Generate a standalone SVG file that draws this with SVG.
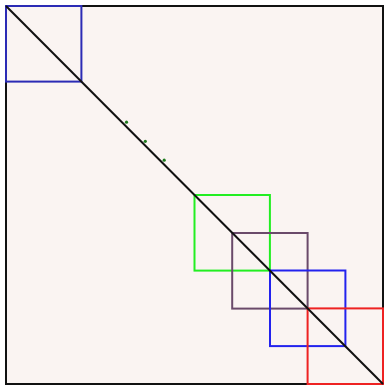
<svg xmlns="http://www.w3.org/2000/svg" width="384" height="385" viewBox="0 0 384 385">
<style>
.frame{fill:#faf4f2;stroke:#111;stroke-width:2}
.sq{fill:none;stroke-width:2}
.dot{fill:#1d7a1d}
</style>
<rect width="384" height="385" fill="#ffffff"/>
<g id="frame"><rect class="frame" x="6" y="6" width="377" height="378"/></g>
<g id="sq1"><rect class="sq" stroke="#2b2bb5" x="6" y="6" width="75.4" height="75.6"/></g>
<g id="sq2"><rect class="sq" stroke="#22ee22" x="194.5" y="195" width="75.4" height="75.6"/></g>
<g id="sq3"><rect class="sq" stroke="#6a4a6a" x="232.2" y="233" width="75.4" height="75.6"/></g>
<g id="sq4"><rect class="sq" stroke="#2222ee" x="270" y="270.5" width="75.4" height="75.6"/></g>
<g id="sq5"><rect class="sq" stroke="#ee2222" x="307.6" y="308.4" width="75.4" height="75.6"/></g>
<g id="connectors"><line x1="6" y1="6" x2="383" y2="384" stroke="#111" stroke-width="2"/></g>
<g id="dots">
<circle class="dot" cx="126.5" cy="122.2" r="1.6"/>
<circle class="dot" cx="145.3" cy="141.3" r="1.6"/>
<circle class="dot" cx="164.2" cy="160.2" r="1.6"/>
</g>
</svg>
